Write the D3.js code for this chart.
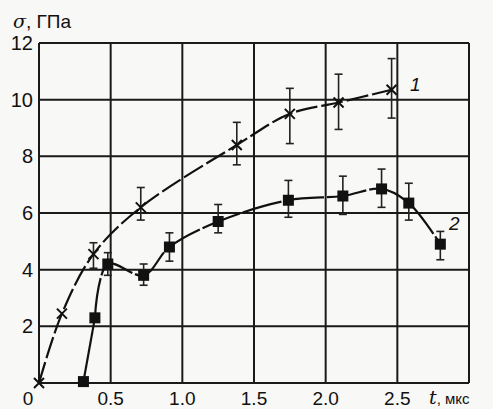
<!DOCTYPE html>
<html>
<head>
<meta charset="utf-8">
<script src="https://cdn.jsdelivr.net/npm/d3@7"></script>
<style>
  body { margin: 0; background: #f8f8f6; }
  text { font-family: "Liberation Sans", Arial, sans-serif; fill: #111; }
</style>
</head>
<body>
<div id="chart"></div>
<script>
// series 1 (crosses) : t, sigma, error bar low/high
var t1 = [0, 0.16, 0.38, 0.71, 1.38, 1.75, 2.09, 2.46];
var s1 = [0, 2.45, 4.55, 6.2, 8.4, 9.5, 9.9, 10.35];
var lo1 = [null, null, 4.05, 5.75, 7.7, 8.45, 8.95, 9.35];
var hi1 = [null, null, 4.95, 6.9, 9.2, 10.4, 10.9, 11.45];

// series 2 (squares)
var t2 = [0.31, 0.39, 0.48, 0.73, 0.91, 1.25, 1.74, 2.12, 2.39, 2.58, 2.8];
var s2 = [0.05, 2.3, 4.2, 3.8, 4.8, 5.7, 6.45, 6.6, 6.85, 6.35, 4.9];
var lo2 = [null, null, 3.8, 3.45, 4.3, 5.3, 5.85, 5.95, 6.2, 5.75, 4.35];
var hi2 = [null, null, 4.6, 4.2, 5.3, 6.3, 7.15, 7.3, 7.55, 7.05, 5.35];

var xTicks = [0, 0.5, 1.0, 1.5, 2.0, 2.5];
var yTicks = [2, 4, 6, 8, 10, 12];

var width = 493, height = 409;
var margin = {top: 43, right: 24, bottom: 26, left: 39};

var svg = d3.select("#chart").append("svg")
  .attr("width", width)
  .attr("height", height);

var x = d3.scaleLinear().domain([0, 3]).range([margin.left, width - margin.right]);
var y = d3.scaleLinear().domain([0, 12]).range([height - margin.bottom, margin.top]);

// grid
svg.append("g").selectAll("line.v")
  .data(xTicks.concat([3]))
  .enter().append("line")
  .attr("x1", d => x(d)).attr("x2", d => x(d))
  .attr("y1", y(0)).attr("y2", y(12))
  .attr("stroke", "#1a1a1a").attr("stroke-width", 2);

svg.append("g").selectAll("line.h")
  .data([0].concat(yTicks))
  .enter().append("line")
  .attr("x1", x(0)).attr("x2", x(3))
  .attr("y1", d => y(d)).attr("y2", d => y(d))
  .attr("stroke", "#1a1a1a").attr("stroke-width", 2);

// tick labels
svg.append("g").selectAll("text")
  .data(yTicks)
  .enter().append("text")
  .attr("x", x(0) - 6)
  .attr("y", d => y(d) + 7)
  .attr("text-anchor", "end")
  .attr("font-size", 20)
  .text(d => d);

svg.append("g").selectAll("text")
  .data(xTicks)
  .enter().append("text")
  .attr("x", d => d === 0 ? x(d) - 11 : x(d))
  .attr("y", height - 4)
  .attr("text-anchor", "middle")
  .attr("font-size", 19)
  .text(d => d === 0 ? "0" : d.toFixed(1));

// axis titles
var yt = svg.append("text").attr("x", 13).attr("y", 28).attr("font-size", 19);
yt.append("tspan").attr("font-style", "italic").attr("font-family", "DejaVu Serif").text("σ");
yt.append("tspan").text(", ГПа");

var xt = svg.append("text").attr("x", 429).attr("y", height - 5).attr("font-size", 16);
xt.append("tspan").attr("font-style", "italic").attr("font-family", "DejaVu Serif").attr("font-size", 19).text("t");
xt.append("tspan").attr("font-size", 15).text(", мкс");

var d1 = t1.map((t, i) => ({t: t, s: s1[i], lo: lo1[i], hi: hi1[i]}));
var d2 = t2.map((t, i) => ({t: t, s: s2[i], lo: lo2[i], hi: hi2[i]}));

var line = d3.line()
  .x(d => x(d.t))
  .y(d => y(d.s))
  .curve(d3.curveCatmullRom.alpha(0.5));

svg.append("path")
  .datum(d1)
  .attr("fill", "none")
  .attr("stroke", "#111")
  .attr("stroke-width", 2.2)
  .attr("stroke-dasharray", "22,4")
  .attr("d", line);

// first rise of series 2 is straight
svg.append("path")
  .datum(d2.slice(0, 2))
  .attr("fill", "none")
  .attr("stroke", "#111")
  .attr("stroke-width", 2.2)
  .attr("d", d3.line().x(d => x(d.t)).y(d => y(d.s)));

svg.append("path")
  .datum(d2.slice(1))
  .attr("fill", "none")
  .attr("stroke", "#111")
  .attr("stroke-width", 2.2)
  .attr("stroke-dasharray", "40,3")
  .attr("d", line);

// error bars
function errorBars(data) {
  var g = svg.append("g").attr("stroke", "#222").attr("stroke-width", 1.6);
  data.filter(d => d.lo !== null).forEach(function(d) {
    g.append("line").attr("x1", x(d.t)).attr("x2", x(d.t)).attr("y1", y(d.lo)).attr("y2", y(d.hi));
    g.append("line").attr("x1", x(d.t) - 4).attr("x2", x(d.t) + 4).attr("y1", y(d.lo)).attr("y2", y(d.lo));
    g.append("line").attr("x1", x(d.t) - 4).attr("x2", x(d.t) + 4).attr("y1", y(d.hi)).attr("y2", y(d.hi));
  });
}
errorBars(d1);
errorBars(d2);

// markers
svg.append("g").selectAll("path")
  .data(d1)
  .enter().append("path")
  .attr("transform", d => "translate(" + x(d.t) + "," + y(d.s) + ")")
  .attr("d", "M-5,-5L5,5M-5,5L5,-5")
  .attr("stroke", "#111")
  .attr("stroke-width", 2);

svg.append("g").selectAll("rect")
  .data(d2)
  .enter().append("rect")
  .attr("x", d => x(d.t) - 5.5)
  .attr("y", d => y(d.s) - 5.5)
  .attr("width", 11)
  .attr("height", 11)
  .attr("fill", "#111");

// curve labels
svg.append("text").attr("x", 410).attr("y", 91).attr("font-size", 19)
  .attr("font-style", "italic").text("1");
svg.append("text").attr("x", 449).attr("y", 230).attr("font-size", 19)
  .attr("font-style", "italic").text("2");
</script>
</body>
</html>
